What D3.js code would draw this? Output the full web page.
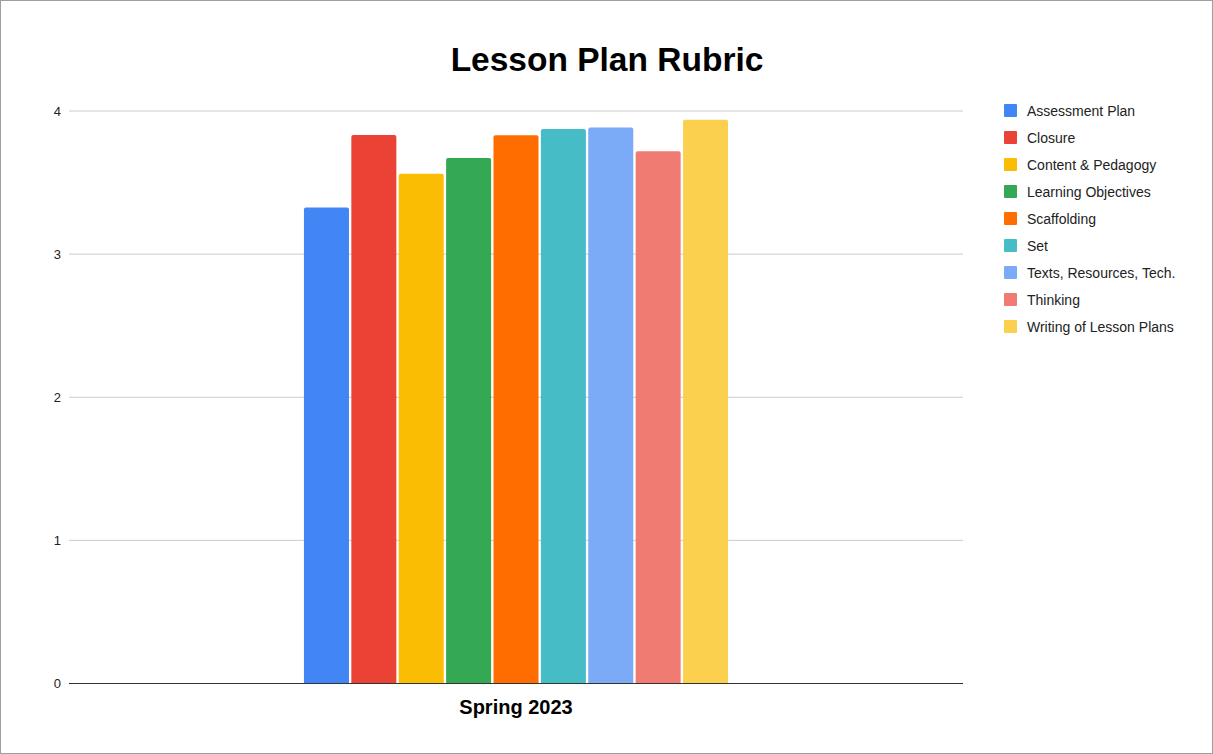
<!DOCTYPE html>
<html><head><meta charset="utf-8">
<script src="https://cdn.jsdelivr.net/npm/d3@7"></script>
<style>html,body{margin:0;padding:0;background:#fff;}svg{display:block;font-family:"Liberation Sans",Arial,sans-serif;}</style>
</head><body>
<script>
const categories = ["Spring 2023"];
const seriesNames = ["Assessment Plan","Closure","Content & Pedagogy","Learning Objectives","Scaffolding","Set","Texts, Resources, Tech.","Thinking","Writing of Lesson Plans"];
const seriesValues = [3.325, 3.833, 3.562, 3.672, 3.831, 3.875, 3.884, 3.719, 3.938];
const seriesColors = ["#4285F4","#EA4335","#FBBC04","#34A853","#FF6D01","#46BDC6","#7BAAF7","#F07B72","#FCD04F"];
const yTicks = [0,1,2,3,4];

const W = 1213, H = 754;
const svg = d3.select("body").append("svg").attr("width", W).attr("height", H);
svg.append("rect").attr("x",0.5).attr("y",0.5).attr("width",W-1).attr("height",H-1).attr("fill","#fff").attr("stroke","#9e9e9e");

const pLeft = 69, pRight = 963, pTop = 111, pBottom = 683.5;
const y = d3.scaleLinear().domain([0,4]).range([pBottom, pTop]);
const x0 = d3.scaleBand().domain(categories).range([pLeft, pRight]).paddingInner(0).paddingOuter(0.554);
const x1 = d3.scaleBand().domain(seriesNames).range([0, x0.bandwidth()]).paddingInner(0.05).paddingOuter(0);

svg.append("text").attr("x", 607).attr("y", 71).attr("text-anchor","middle")
  .attr("font-size", 33.5).attr("font-weight","bold").attr("fill","#000").text("Lesson Plan Rubric");

// grid
svg.append("g").selectAll("line").data(yTicks.filter(d=>d>0)).enter().append("line")
  .attr("x1", pLeft).attr("x2", pRight).attr("y1", d=>y(d)).attr("y2", d=>y(d))
  .attr("stroke","#cccccc").attr("stroke-width",1);

// y axis labels
const yAxis = d3.axisLeft(y).tickValues(yTicks).tickSize(0).tickPadding(8).tickFormat(d3.format("d"));
const ya = svg.append("g").attr("transform",`translate(${pLeft},0)`).call(yAxis);
ya.select(".domain").remove();
ya.selectAll("text").attr("font-size",13).attr("fill","#222").attr("font-family","Liberation Sans, Arial, sans-serif");

// bars
function topRounded(x, yy, w, h, r) {
  r = Math.min(r, h, w/2);
  return `M${x},${yy+h}V${yy+r}Q${x},${yy} ${x+r},${yy}H${x+w-r}Q${x+w},${yy} ${x+w},${yy+r}V${yy+h}Z`;
}
categories.forEach(cat => {
  const gx = x0(cat);
  svg.append("g").selectAll("path").data(seriesNames.map((n,i)=>({n, v:seriesValues[i], c:seriesColors[i]})))
    .enter().append("path")
    .attr("d", d => topRounded(gx + x1(d.n), y(d.v), x1.bandwidth(), y(0)-y(d.v), 2))
    .attr("fill", d=>d.c);
});

// baseline
svg.append("line").attr("x1",pLeft).attr("x2",pRight).attr("y1",y(0)).attr("y2",y(0)).attr("stroke","#333").attr("stroke-width",1.2);

// x axis label
const xAxis = d3.axisBottom(x0).tickSize(0).tickPadding(16);
const xa = svg.append("g").attr("transform",`translate(0,${y(0)})`).call(xAxis);
xa.select(".domain").remove();
xa.selectAll("text").attr("font-size",20).attr("font-weight","bold").attr("fill","#000").attr("font-family","Liberation Sans, Arial, sans-serif");

// legend
const lg = svg.append("g").attr("transform","translate(1004,104)");
const items = lg.selectAll("g").data(seriesNames).enter().append("g").attr("transform",(d,i)=>`translate(0,${i*27})`);
items.append("rect").attr("width",13).attr("height",13).attr("rx",1).attr("fill",(d,i)=>seriesColors[i]);
items.append("text").attr("x",23).attr("y",12).attr("font-size",14).attr("fill","#222").text(d=>d);
</script>
</body></html>
